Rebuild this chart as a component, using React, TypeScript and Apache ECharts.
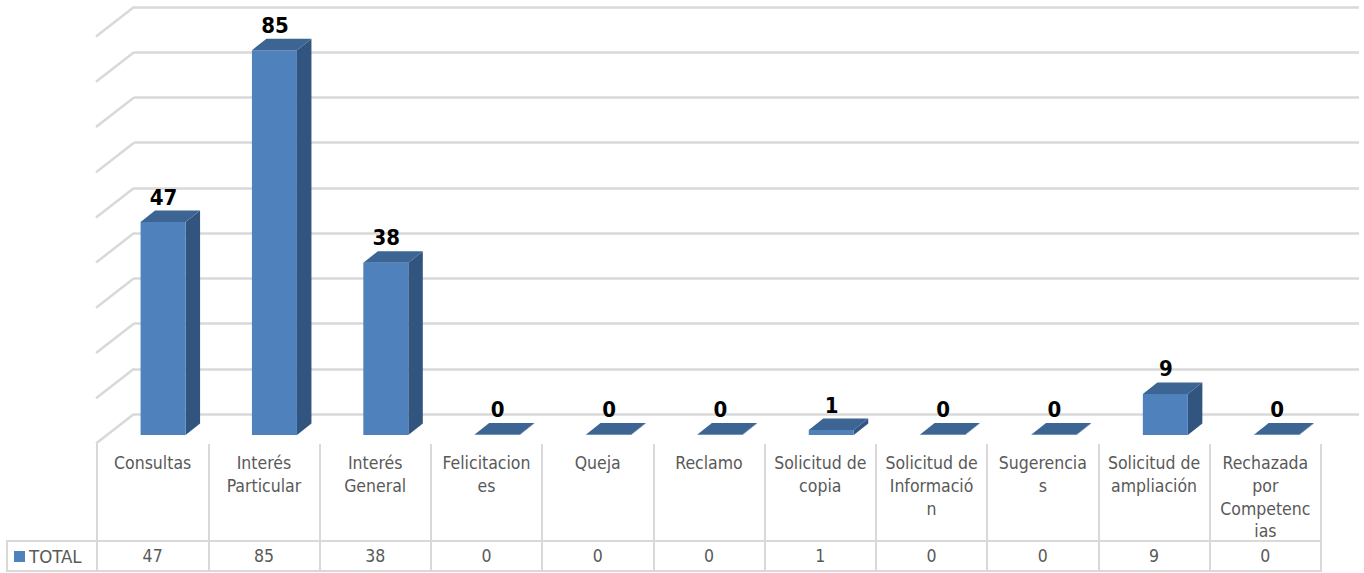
import React, { useEffect, useRef } from "react";
import * as echarts from "echarts";

const categories = [
  "Consultas", "Interés\nParticular", "Interés\nGeneral", "Felicitacion\nes", "Queja", "Reclamo",
  "Solicitud de\ncopia", "Solicitud de\nInformació\nn", "Sugerencia\ns", "Solicitud de\nampliación",
  "Rechazada\npor\nCompetenc\nias",
];
const values = [47, 85, 38, 0, 0, 0, 1, 0, 0, 9, 0];
const wallTicks = [0, 10, 20, 30, 40, 50, 60, 70, 80, 90];
const seriesName = "TOTAL";

const GRID = "#d9d9d9";
const TEXT = "#595959";
const FONT = "'DejaVu Sans Condensed', 'DejaVu Sans', sans-serif";
const FONT_SIZE = 17.5;

export default function App() {
  const ref = useRef<HTMLDivElement>(null);
  useEffect(() => {
    const chart = echarts.init(ref.current!, null, { renderer: "svg" });
    const hiddenY = { type: "value", show: false, min: 0, max: 1 };
    const hiddenCat = { type: "category", data: categories, show: false };
    chart.setOption({
      animation: false,
      backgroundColor: "#ffffff",
      textStyle: { fontFamily: FONT },
      grid: [
        { left: 134, top: 7, width: 1225, height: 407 },
        { left: 97, top: 443, width: 1224, height: 1 },
        { left: 97, top: 541, width: 1224, height: 30, show: true, borderColor: GRID, borderWidth: 2, backgroundColor: "transparent" },
      ],
      xAxis: [
        { gridIndex: 0, ...hiddenCat },
        {
          gridIndex: 1, type: "category", data: categories,
          axisLine: { show: false },
          axisTick: { show: true, length: 97, lineStyle: { color: GRID, width: 2 } },
          axisLabel: { interval: 0, margin: 8, color: TEXT, fontFamily: FONT, fontSize: FONT_SIZE, lineHeight: 22.7 },
        },
        {
          gridIndex: 2, type: "category", data: categories,
          axisLine: { show: false },
          axisTick: { show: false },
          splitLine: { show: true, interval: 0, lineStyle: { color: GRID, width: 2 } },
          axisLabel: {
            interval: 0, inside: true, margin: 6, color: TEXT, fontFamily: FONT, fontSize: FONT_SIZE,
            formatter: (_: string, i: number) => String(values[i]),
          },
        },
      ],
      yAxis: [
        {
          gridIndex: 0, type: "value", min: 0, max: 90, interval: 10,
          axisLine: { show: false }, axisTick: { show: false }, axisLabel: { show: false },
          splitLine: { show: true, lineStyle: { color: GRID, width: 2.5 } },
        },
        { gridIndex: 1, ...hiddenY },
        { gridIndex: 2, ...hiddenY },
      ],
      legend: {
        left: 14, top: 547, padding: 0, itemWidth: 11, itemHeight: 11, itemGap: 0,
        data: [{ name: seriesName, icon: "rect", itemStyle: { color: "#4f81bd" } }],
        textStyle: { color: TEXT, fontFamily: FONT, fontSize: 18.5, padding: [0, 0, 0, -1] },
        selectedMode: false,
      },
      graphic: [
        {
          type: "polyline", silent: true,
          shape: { points: [[97, 541], [7, 541], [7, 571], [97, 571]] },
          style: { stroke: GRID, lineWidth: 2, fill: "none" },
        },
      ],
      series: [
        {
          type: "custom", name: "wall", xAxisIndex: 0, yAxisIndex: 0, clip: false, silent: true, z: 1,
          encode: { y: 0 },
          data: wallTicks.map((v) => [v]),
          renderItem: (params: any, api: any) => {
            const x0 = params.coordSys.x;
            const y = api.coord([0, api.value(0)])[1];
            return {
              type: "line",
              shape: { x1: x0, y1: y, x2: x0 - 38, y2: y + 29.5 },
              style: { stroke: GRID, lineWidth: 2.5 },
            };
          },
        },
        {
          type: "custom", name: seriesName, xAxisIndex: 0, yAxisIndex: 0, clip: false, z: 3,
          encode: { x: 0, y: 1 },
          data: values.map((v, i) => [i, v]),
          itemStyle: { color: "#4f81bd" },
          renderItem: (_params: any, api: any) => {
            const idx = api.value(0);
            const v = api.value(1);
            const base = api.coord([idx, 0]);
            const top = api.coord([idx, v]);
            const cx = base[0] - 26.6;
            const w = 45, dx = 14.5, dy = 11.5;
            const x0 = cx - w / 2, x1 = cx + w / 2;
            const yb = base[1] + 21, yt = top[1] + 20.6;
            const children: any[] = [
              {
                type: "polygon",
                shape: { points: [[x1, yb], [x1 + dx, yb - dy], [x1 + dx, yt - dy], [x1, yt]] },
                style: { fill: "#325580" },
              },
              {
                type: "rect",
                shape: { x: x0, y: yt, width: w, height: yb - yt },
                style: { fill: "#4f81bd" },
              },
              {
                type: "polygon",
                shape: { points: [[x0, yt], [x0 + dx, yt - dy], [x1 + dx, yt - dy], [x1, yt]] },
                style: { fill: "#3c6594" },
              },
              {
                type: "text",
                style: {
                  text: String(v), x: cx + 0.5, y: yt - dy - 2.5,
                  align: "center", verticalAlign: "bottom",
                  fill: "#000000", font: "bold 22px 'DejaVu Sans Condensed', 'DejaVu Sans', sans-serif",
                },
              },
            ];
            return { type: "group", children };
          },
        },
      ],
    });
    return () => chart.dispose();
  }, []);
  return <div ref={ref} style={{ position: "absolute", left: 0, top: 0, width: 1364, height: 573 }} />;
}
